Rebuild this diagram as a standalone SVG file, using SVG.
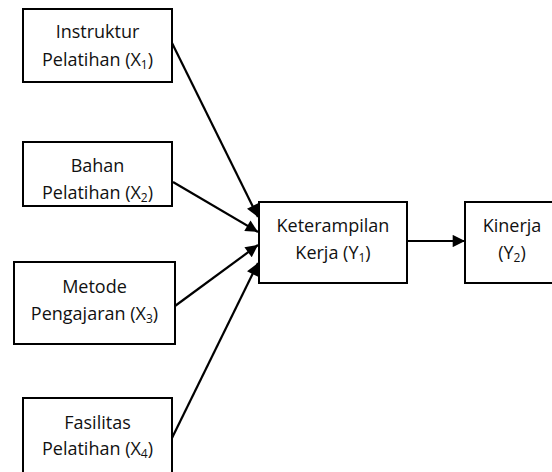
<svg xmlns="http://www.w3.org/2000/svg" width="552" height="472" viewBox="0 0 552 472">
<defs>
<style>
.box{fill:#fff;stroke:#000;stroke-width:2}
text{font-family:"Open Sans","Liberation Sans",sans-serif;font-size:18px;fill:#111;text-anchor:middle}
.sub{font-size:12px}
.con line{stroke:#000;stroke-width:2.2}
</style>
<marker id="ah" viewBox="0 0 10 10" refX="10" refY="5" markerWidth="6.5" markerHeight="5.6" markerUnits="strokeWidth" orient="auto">
<path d="M0,0L10,5L0,10z" fill="#000"/>
</marker>
</defs>
<rect width="552" height="472" fill="#fff"/>
<g id="x1"><rect class="box" x="23" y="9" width="149" height="73"/>
<text x="97.5" y="38">Instruktur</text>
<text x="97.5" y="66">Pelatihan (X<tspan class="sub" dy="3">1</tspan><tspan dy="-3">)</tspan></text></g>
<g id="x2"><rect class="box" x="23" y="142" width="149" height="64"/>
<text x="97.5" y="172">Bahan</text>
<text x="97.5" y="199">Pelatihan (X<tspan class="sub" dy="3">2</tspan><tspan dy="-3">)</tspan></text></g>
<g id="x3"><rect class="box" x="14" y="262" width="161" height="82"/>
<text x="94.5" y="293">Metode</text>
<text x="94.5" y="320">Pengajaran (X<tspan class="sub" dy="3">3</tspan><tspan dy="-3">)</tspan></text></g>
<g id="x4"><rect class="box" x="23" y="398" width="149" height="80"/>
<text x="97.5" y="429">Fasilitas</text>
<text x="97.5" y="455">Pelatihan (X<tspan class="sub" dy="3">4</tspan><tspan dy="-3">)</tspan></text></g>
<g id="y1"><rect class="box" x="259" y="202" width="148" height="81"/>
<text x="333" y="232">Keterampilan</text>
<text x="333" y="259">Kerja (Y<tspan class="sub" dy="3">1</tspan><tspan dy="-3">)</tspan></text></g>
<g id="y2"><rect class="box" x="465" y="202" width="100" height="81"/>
<text x="512" y="232">Kinerja</text>
<text x="512" y="259">(Y<tspan class="sub" dy="3">2</tspan><tspan dy="-3">)</tspan></text></g>
<g class="con" id="connectors">
<line x1="172" y1="43" x2="258" y2="217" marker-end="url(#ah)"/>
<line x1="173" y1="182" x2="258" y2="232" marker-end="url(#ah)"/>
<line x1="175" y1="306" x2="258" y2="245" marker-end="url(#ah)"/>
<line x1="172" y1="438" x2="258" y2="263" marker-end="url(#ah)"/>
<line x1="407" y1="241" x2="465" y2="241" marker-end="url(#ah)"/>
</g>
</svg>
